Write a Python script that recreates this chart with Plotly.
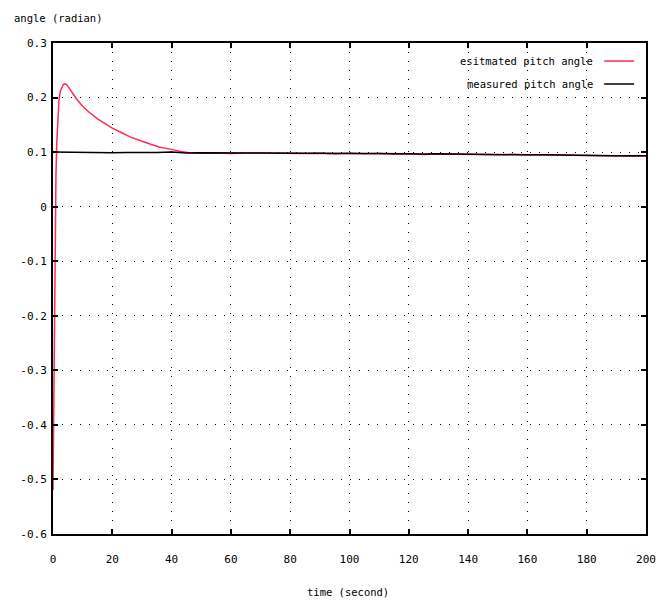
import plotly.graph_objects as go

# ---- data ----
t_est = [0, 0.2, 0.4, 0.6, 0.8, 1.0, 1.3, 1.6, 2.0, 2.5, 3.0, 3.5, 4.0, 4.5, 5, 6, 7, 8, 10, 12,
         15, 18, 20, 23, 26, 30, 33, 36, 40, 43, 46,
         50, 55, 60, 65, 70, 75, 80, 85, 90, 95, 100, 105, 110, 115, 120, 125, 130, 135,
         140, 145, 150, 155, 160, 165, 170, 175, 180, 185, 190, 195, 200]
est_pitch = [-0.52, -0.40, -0.25, -0.08, 0.0, 0.06, 0.12, 0.16, 0.195, 0.212, 0.22, 0.224, 0.225, 0.224,
             0.221, 0.213, 0.205, 0.197, 0.184, 0.174, 0.161, 0.150, 0.144, 0.136, 0.128, 0.120, 0.114,
             0.109, 0.105, 0.101, 0.099,
             0.098, 0.0985, 0.0975, 0.0985, 0.098, 0.0985, 0.098, 0.0975, 0.098, 0.0965, 0.098, 0.097,
             0.0975, 0.0960, 0.097, 0.0955, 0.0965, 0.096, 0.0960, 0.0955, 0.0950, 0.0955, 0.0945,
             0.0950, 0.0945, 0.0940, 0.0945, 0.0935, 0.0935, 0.0925, 0.0930]

t_meas = [0, 5, 10, 15, 20, 25, 30, 35, 40, 45, 50, 55, 60, 65, 70, 75, 80, 85, 90, 95, 100,
          105, 110, 115, 120, 125, 130, 135, 140, 145, 150, 155, 160, 165, 170, 175, 180, 185,
          190, 195, 200]
meas_pitch = [0.100, 0.0995, 0.1000, 0.0995, 0.0990, 0.0995, 0.0990, 0.0995, 0.1000, 0.0985, 0.0990,
              0.0985, 0.0990, 0.0985, 0.0985, 0.0980, 0.0985, 0.0980, 0.0980, 0.0975, 0.0980, 0.0975,
              0.0975, 0.0970, 0.0970, 0.0965, 0.0970, 0.0965, 0.0960, 0.0960, 0.0955, 0.0955, 0.0950,
              0.0950, 0.0945, 0.0945, 0.0945, 0.0940, 0.0935, 0.0935, 0.0935]

x_ticks = [0, 20, 40, 60, 80, 100, 120, 140, 160, 180, 200]
y_ticks = [0.3, 0.2, 0.1, 0, -0.1, -0.2, -0.3, -0.4, -0.5, -0.6]
y_tick_labels = ["0.3", "0.2", "0.1", "0", "-0.1", "-0.2", "-0.3", "-0.4", "-0.5", "-0.6"]

series_names = ["esitmated pitch angle", "measured pitch angle"]
RED = "#ff2a55"
FONT = "DejaVu Sans Mono"

fig = go.Figure()
fig.add_trace(go.Scatter(x=t_est, y=est_pitch, mode="lines", name=series_names[0],
                         line=dict(color=RED, width=1.5), showlegend=False))
fig.add_trace(go.Scatter(x=t_meas, y=meas_pitch, mode="lines", name=series_names[1],
                         line=dict(color="black", width=1.5), showlegend=False))

axis_common = dict(showline=True, linecolor="black", linewidth=2, mirror="ticks",
                   ticks="inside", ticklen=5, tickwidth=2, tickcolor="black",
                   showgrid=True, gridcolor="black", gridwidth=1, griddash="1px,8px",
                   zeroline=False, tickfont=dict(family=FONT, size=11, color="black"))

fig.update_xaxes(range=[0, 200], tickvals=x_ticks, ticklabelstandoff=14, **axis_common)
fig.update_yaxes(range=[-0.6, 0.3], tickvals=y_ticks, ticktext=y_tick_labels,
                 ticklabelstandoff=2, **axis_common)

# legend drawn gnuplot style (text then sample)
legend_rows = [(0.9633, RED), (0.9165, "black")]
for name, (yy, col) in zip(series_names, legend_rows):
    fig.add_annotation(x=0.9144, y=yy, xref="paper", yref="paper", text=name, showarrow=False,
                       xanchor="right", yanchor="middle",
                       font=dict(family=FONT, size=10.5, color="black"))
    fig.add_shape(type="line", xref="paper", yref="paper", x0=0.9295, x1=0.980, y0=yy, y1=yy,
                  line=dict(color=col, width=1.5))

fig.add_annotation(x=-0.069, y=1.051, xref="paper", yref="paper", text="angle (radian)",
                   showarrow=False, xanchor="left", yanchor="middle",
                   font=dict(family=FONT, size=10.5, color="black"))
fig.add_annotation(x=0.498, y=-0.118, xref="paper", yref="paper", text="time (second)",
                   showarrow=False, xanchor="center", yanchor="middle",
                   font=dict(family=FONT, size=10.5, color="black"))

# page body has an 8px margin, so the figure is slightly smaller than the window
fig.update_layout(width=660, height=594, margin=dict(l=45, r=19, t=35, b=68),
                  plot_bgcolor="white", paper_bgcolor="white")

fig.write_html("out.html")
